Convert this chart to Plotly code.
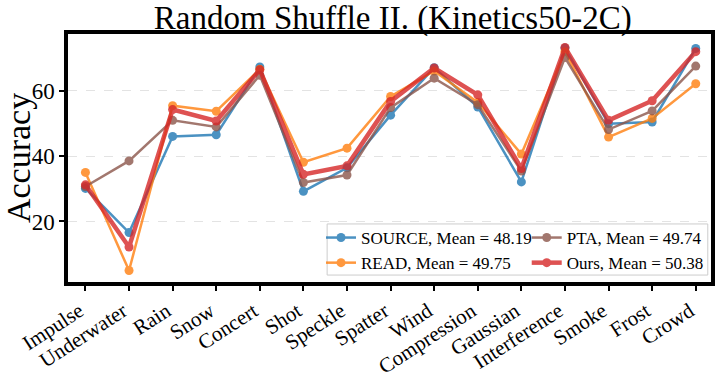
import plotly.graph_objects as go

# Corruption types on the x axis
corruptions = ["Impulse", "Underwater", "Rain", "Snow", "Concert", "Shot", "Speckle",
               "Spatter", "Wind", "Compression", "Gaussian", "Interference", "Smoke",
               "Frost", "Crowd"]

# Accuracy per method
source_acc = [30.1, 16.6, 46.0, 46.5, 67.2, 29.2, 36.4, 52.5, 67.0, 55.0, 32.1, 73.0, 49.9, 50.4, 72.9]
read_acc = [35.0, 5.0, 55.4, 53.7, 66.5, 38.1, 42.4, 58.2, 66.0, 56.4, 40.6, 71.9, 45.8, 51.5, 62.1]
pta_acc = [30.7, 38.5, 50.9, 48.9, 64.7, 31.9, 34.2, 54.8, 63.8, 55.7, 35.4, 70.1, 48.1, 53.8, 67.5]
ours_acc = [31.2, 12.2, 54.2, 50.7, 66.4, 34.4, 37.0, 56.7, 66.9, 58.7, 36.2, 73.2, 50.9, 56.9, 71.9]

legend_names = ["SOURCE, Mean = 48.19", "READ, Mean = 49.75", "PTA, Mean = 49.74", "Ours, Mean = 50.38"]

serif = "Liberation Serif, Times New Roman, serif"

series = [
    (source_acc, legend_names[0], "#1f77b4", 2.5, "legend"),
    (read_acc, legend_names[1], "#ff7f0e", 2.5, "legend"),
    (pta_acc, legend_names[2], "#8c564b", 2.5, "legend2"),
    (ours_acc, legend_names[3], "#d62728", 4.5, "legend2"),
]

fig = go.Figure()
for values, name, color, width, leg in series:
    fig.add_trace(go.Scatter(
        x=corruptions,
        y=values,
        name=name,
        mode="lines+markers",
        line=dict(color=color, width=width),
        marker=dict(color=color, size=9),
        opacity=0.8,
        legend=leg,
    ))

# One box behind both legend columns
fig.add_shape(
    type="rect", xref="paper", yref="paper",
    x0=0.403, x1=0.995, y0=0.028, y1=0.234,
    line=dict(color="#cccccc", width=1), fillcolor="rgba(255,255,255,0.85)",
    layer="above",
)

fig.update_xaxes(
    range=[-0.4, 14.35],
    showline=True, linecolor="black", linewidth=3.5, mirror=True,
    ticks="outside", ticklen=5, tickwidth=1.5, tickcolor="black",
    tickangle=-33,
    ticklabelshift=-6,
    tickfont=dict(family=serif, size=21, color="black"),
    showgrid=False,
    automargin=False,
)

fig.update_yaxes(
    range=[1.5, 77.3],
    tickvals=[20, 40, 60],
    showline=True, linecolor="black", linewidth=3.5, mirror=True,
    ticks="outside", ticklen=5, tickwidth=1.5, tickcolor="black",
    tickfont=dict(family=serif, size=23, color="black"),
    showgrid=True, gridcolor="#e3e3e3", griddash="dash", gridwidth=1,
    zeroline=False,
    automargin=False,
    title=dict(text="Accuracy", font=dict(family=serif, size=34, color="black"), standoff=14),
)

legend_style = dict(
    font=dict(family=serif, size=17, color="black"),
    bgcolor="rgba(0,0,0,0)",
    borderwidth=0,
    yanchor="top",
    y=0.25,
    tracegroupgap=0,
    itemwidth=30,
)

fig.update_layout(
    width=718,
    height=378,
    margin=dict(l=68, r=7, t=34, b=96),
    plot_bgcolor="white",
    paper_bgcolor="white",
    title=dict(
        text="Random Shuffle II. (Kinetics50-2C)",
        font=dict(family=serif, size=33, color="black"),
        x=0.547, xanchor="center", y=0.953, yanchor="middle",
    ),
    legend=dict(x=0.3935, xanchor="left", **legend_style),
    legend2=dict(x=0.7134, xanchor="left", **legend_style),
    showlegend=True,
)

# Drop the default page margin so the figure sits at the window's corner
fig.write_html(
    "out.html",
    config=dict(displayModeBar=False),
    post_script="document.body.style.margin='0px';",
)
